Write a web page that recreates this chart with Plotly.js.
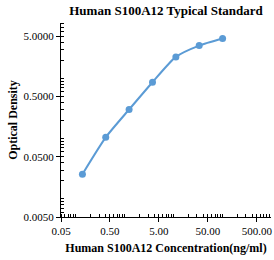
<!DOCTYPE html>
<html>
<head>
<meta charset="utf-8">
<script src="https://cdn.plot.ly/plotly-3.0.1.min.js"></script>
<style>html,body{margin:0;padding:0;background:#fff;}#chart{width:274px;height:260px;}</style>
</head>
<body>
<div id="chart"></div>
<script>
const concentrations = [0.137, 0.41, 1.23, 3.7, 11.1, 33.3, 100];
const odValues = [0.0257, 0.105, 0.304, 0.863, 2.27, 3.5, 4.58];
const xTickVals = [0.05, 0.5, 5, 50, 500];
const xTickText = ["0.05", "0.50", "5.00", "50.00", "500.00"];
const yTickVals = [0.005, 0.05, 0.5, 5];
const yTickText = ["0.0050", "0.0500", "0.5000", "5.0000"];

const font = "Liberation Serif, Times New Roman, serif";
const trace = {
  x: concentrations, y: odValues, type: "scatter", mode: "lines+markers",
  line: {color: "#5B9BD5", width: 2, shape: "spline", smoothing: 0.6},
  marker: {color: "#5B9BD5", size: 7}
};
const layout = {
  width: 274, height: 260,
  margin: {l: 61, r: 3, t: 23, b: 43},
  paper_bgcolor: "#fff", plot_bgcolor: "#fff",
  showlegend: false,
  font: {family: font, color: "#000"},
  title: {text: "<b>Human S100A12 Typical Standard</b>", font: {size: 13, family: font, color: "#000"},
          x: 0.5, xref: "paper", xanchor: "center", y: 0.96, yref: "container", yanchor: "middle"},
  xaxis: {
    type: "log", range: [Math.log10(0.05), Math.log10(500) + 0.29],
    tickvals: xTickVals, ticktext: xTickText,
    tickfont: {size: 11, family: font, color: "#000"},
    showgrid: false, zeroline: false, showline: true, linecolor: "#000", linewidth: 1,
    ticks: "outside", ticklen: 4, tickcolor: "#000",
    minor: {ticks: "inside", ticklen: 3, tickcolor: "#000", dtick: "D1", showgrid: false},
    title: {text: "<b>Human S100A12 Concentration(ng/ml)</b>", font: {size: 12, family: font, color: "#000"}, standoff: 7}
  },
  yaxis: {
    type: "log", range: [Math.log10(0.005), Math.log10(5) + 0.22],
    tickvals: yTickVals, ticktext: yTickText,
    tickfont: {size: 11, family: font, color: "#000"},
    showgrid: false, zeroline: false, showline: true, linecolor: "#000", linewidth: 1,
    ticks: "outside", ticklen: 4, tickcolor: "#000",
    minor: {ticks: "inside", ticklen: 3, tickcolor: "#000", dtick: "D1", showgrid: false},
    title: {text: "<b>Optical Density</b>", font: {size: 12, family: font, color: "#000"}, standoff: 3}
  }
};
Plotly.newPlot("chart", [trace], layout, {displayModeBar: false, staticPlot: true});
</script>
</body>
</html>
